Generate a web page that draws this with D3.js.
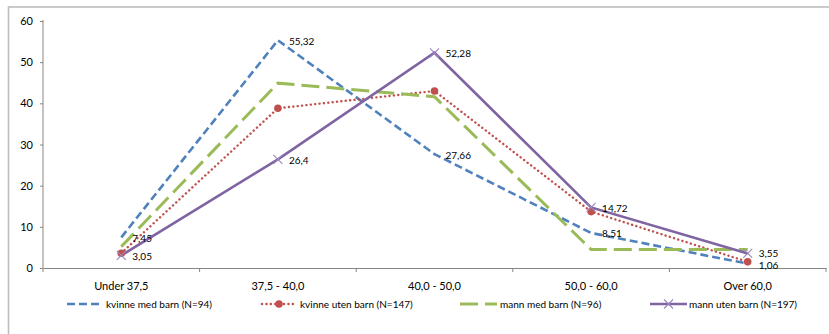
<!DOCTYPE html>
<html>
<head>
<meta charset="utf-8">
<script src="https://cdn.jsdelivr.net/npm/d3@7"></script>
<style>
  html, body { margin: 0; padding: 0; background: #ffffff; }
  svg { display: block; }
  text { font-family: Lato, "Open Sans", sans-serif; fill: #000; }
</style>
</head>
<body>
<svg id="chart" width="829" height="334"></svg>
<script>
// Working hours groups (x categories)
const categories = ["Under 37,5", "37,5 - 40,0", "40,0 - 50,0", "50,0 - 60,0", "Over 60,0"];

// Percent per group, one array per series
const kvinneMedBarn  = [7.45, 55.32, 27.66, 8.51, 1.06];
const kvinneUtenBarn = [3.6, 38.8, 43.0, 13.7, 1.5];
const mannMedBarn    = [5.2, 44.9, 41.6, 4.5, 4.5];
const mannUtenBarn   = [3.05, 26.4, 52.28, 14.72, 3.55];

const seriesNames = [
  "kvinne med barn (N=94)",
  "kvinne uten barn (N=147)",
  "mann med barn (N=96)",
  "mann uten barn (N=197)"
];

const yTicks = [0, 10, 20, 30, 40, 50, 60];

// Which series carry value labels
const labelled = [true, false, false, true];

const styles = [
  { color: "#4F81BD", width: 2.6, dash: "8,4", cap: "butt", marker: null },
  { color: "#C0504D", width: 2.4, dash: "0.1,4.3", cap: "round", marker: "circle" },
  { color: "#9BBB59", width: 3, dash: "18,7", cap: "butt", marker: null },
  { color: "#8064A2", width: 2.6, dash: null, cap: "butt", marker: "x" }
];

const series = [kvinneMedBarn, kvinneUtenBarn, mannMedBarn, mannUtenBarn].map((v, i) => ({
  name: seriesNames[i], values: v, style: styles[i], labelled: labelled[i]
}));

const svg = d3.select("#chart");

// Outer frame of the chart area
svg.append("rect")
  .attr("x", 8.5).attr("y", 7)
  .attr("width", 840).attr("height", 340)
  .attr("fill", "none")
  .attr("stroke", "#bdbdbd")
  .attr("stroke-width", 1.6);

const plotLeft = 43, plotRight = 826, plotTop = 21, plotBottom = 268;

const x = d3.scaleBand().domain(categories).range([plotLeft, plotRight]).padding(0);
const y = d3.scaleLinear().domain([0, 60]).range([plotBottom, plotTop]);
const cx = c => x(c) + x.bandwidth() / 2;

// Y axis
const yAxis = svg.append("g")
  .attr("transform", `translate(${plotLeft},0)`)
  .call(d3.axisLeft(y).tickValues(yTicks).tickSize(3).tickPadding(7).tickFormat(d3.format("d")));
yAxis.select(".domain").attr("stroke", "#868686").attr("d", `M0,${plotBottom}V${plotTop - 1}`);
yAxis.selectAll(".tick line").attr("stroke", "#868686");
yAxis.selectAll("text").style("font-size", "11px").attr("fill", "#222");

// X axis: labels at band centres, tick marks between categories
const xAxis = svg.append("g")
  .attr("transform", `translate(0,${plotBottom})`)
  .call(d3.axisBottom(x).tickSize(0).tickPadding(14));
xAxis.select(".domain").attr("stroke", "#868686");
xAxis.selectAll("text").style("font-size", "11px").attr("fill", "#222");
xAxis.selectAll(".boundary")
  .data(d3.range(categories.length + 1))
  .enter().append("line")
  .attr("class", "boundary")
  .attr("x1", i => plotLeft + i * x.step()).attr("x2", i => plotLeft + i * x.step())
  .attr("y1", 0).attr("y2", 4)
  .attr("stroke", "#868686");

// Series lines
const line = d3.line()
  .x((d, i) => cx(categories[i]))
  .y(d => y(d));

const lines = svg.append("g");
series.forEach(s => {
  lines.append("path")
    .datum(s.values)
    .attr("d", line)
    .attr("fill", "none")
    .attr("stroke", s.style.color)
    .attr("stroke-width", s.style.width)
    .attr("stroke-dasharray", s.style.dash)
    .attr("stroke-linecap", s.style.cap)
    .attr("stroke-linejoin", "miter");
});

function drawMarker(g, kind, px, py, color) {
  if (kind === "circle") {
    g.append("circle").attr("cx", px).attr("cy", py).attr("r", 3.8).attr("fill", color);
  } else if (kind === "x") {
    const r = 4.5;
    g.append("path")
      .attr("d", `M${px - r},${py - r}L${px + r},${py + r}M${px - r},${py + r}L${px + r},${py - r}`)
      .attr("stroke", "#9a86c0").attr("stroke-width", 1.1).attr("fill", "none");
  }
}

// Markers
const markers = svg.append("g");
series.forEach(s => {
  if (!s.style.marker) return;
  s.values.forEach((v, i) => drawMarker(markers, s.style.marker, cx(categories[i]), y(v), s.style.color));
});

// Value labels (decimal comma), placed right of the point; labels in the same
// category that would collide are pushed apart vertically
const labelData = [];
series.filter(s => s.labelled).forEach(s => {
  s.values.forEach((v, i) => labelData.push({ i, v, ly: y(v) + 1 }));
});
const minGap = 12.5;
d3.groups(labelData, d => d.i).forEach(([, group]) => {
  group.sort((a, b) => a.ly - b.ly);
  for (let k = 1; k < group.length; k++) {
    const gap = group[k].ly - group[k - 1].ly;
    if (gap < minGap) {
      const push = (minGap - gap) / 2;
      group[k - 1].ly -= push;
      group[k].ly += push;
    }
  }
});
svg.append("g").selectAll("text")
  .data(labelData)
  .enter().append("text")
  .attr("x", d => cx(categories[d.i]) + 11)
  .attr("y", d => d.ly)
  .attr("dy", "0.35em")
  .style("font-size", "10px")
  .text(d => String(d.v).replace(".", ","));

// Legend
const legendY = 304;
const legendItems = [
  { x1: 67, x2: 101, tx: 106 },
  { x1: 262, x2: 296, tx: 300 },
  { x1: 460, x2: 497, tx: 500 },
  { x1: 650, x2: 687, tx: 689 }
];
const legend = svg.append("g");
series.forEach((s, i) => {
  const it = legendItems[i];
  legend.append("line")
    .attr("x1", it.x1).attr("x2", it.x2)
    .attr("y1", legendY).attr("y2", legendY)
    .attr("stroke", s.style.color)
    .attr("stroke-width", s.style.width)
    .attr("stroke-dasharray", s.style.dash)
    .attr("stroke-linecap", s.style.cap);
  if (s.style.marker) drawMarker(legend, s.style.marker, (it.x1 + it.x2) / 2, legendY, s.style.color);
  legend.append("text")
    .attr("x", it.tx).attr("y", legendY)
    .attr("dy", "0.35em")
    .style("font-size", "10px")
    .text(s.name);
});
</script>
</body>
</html>
